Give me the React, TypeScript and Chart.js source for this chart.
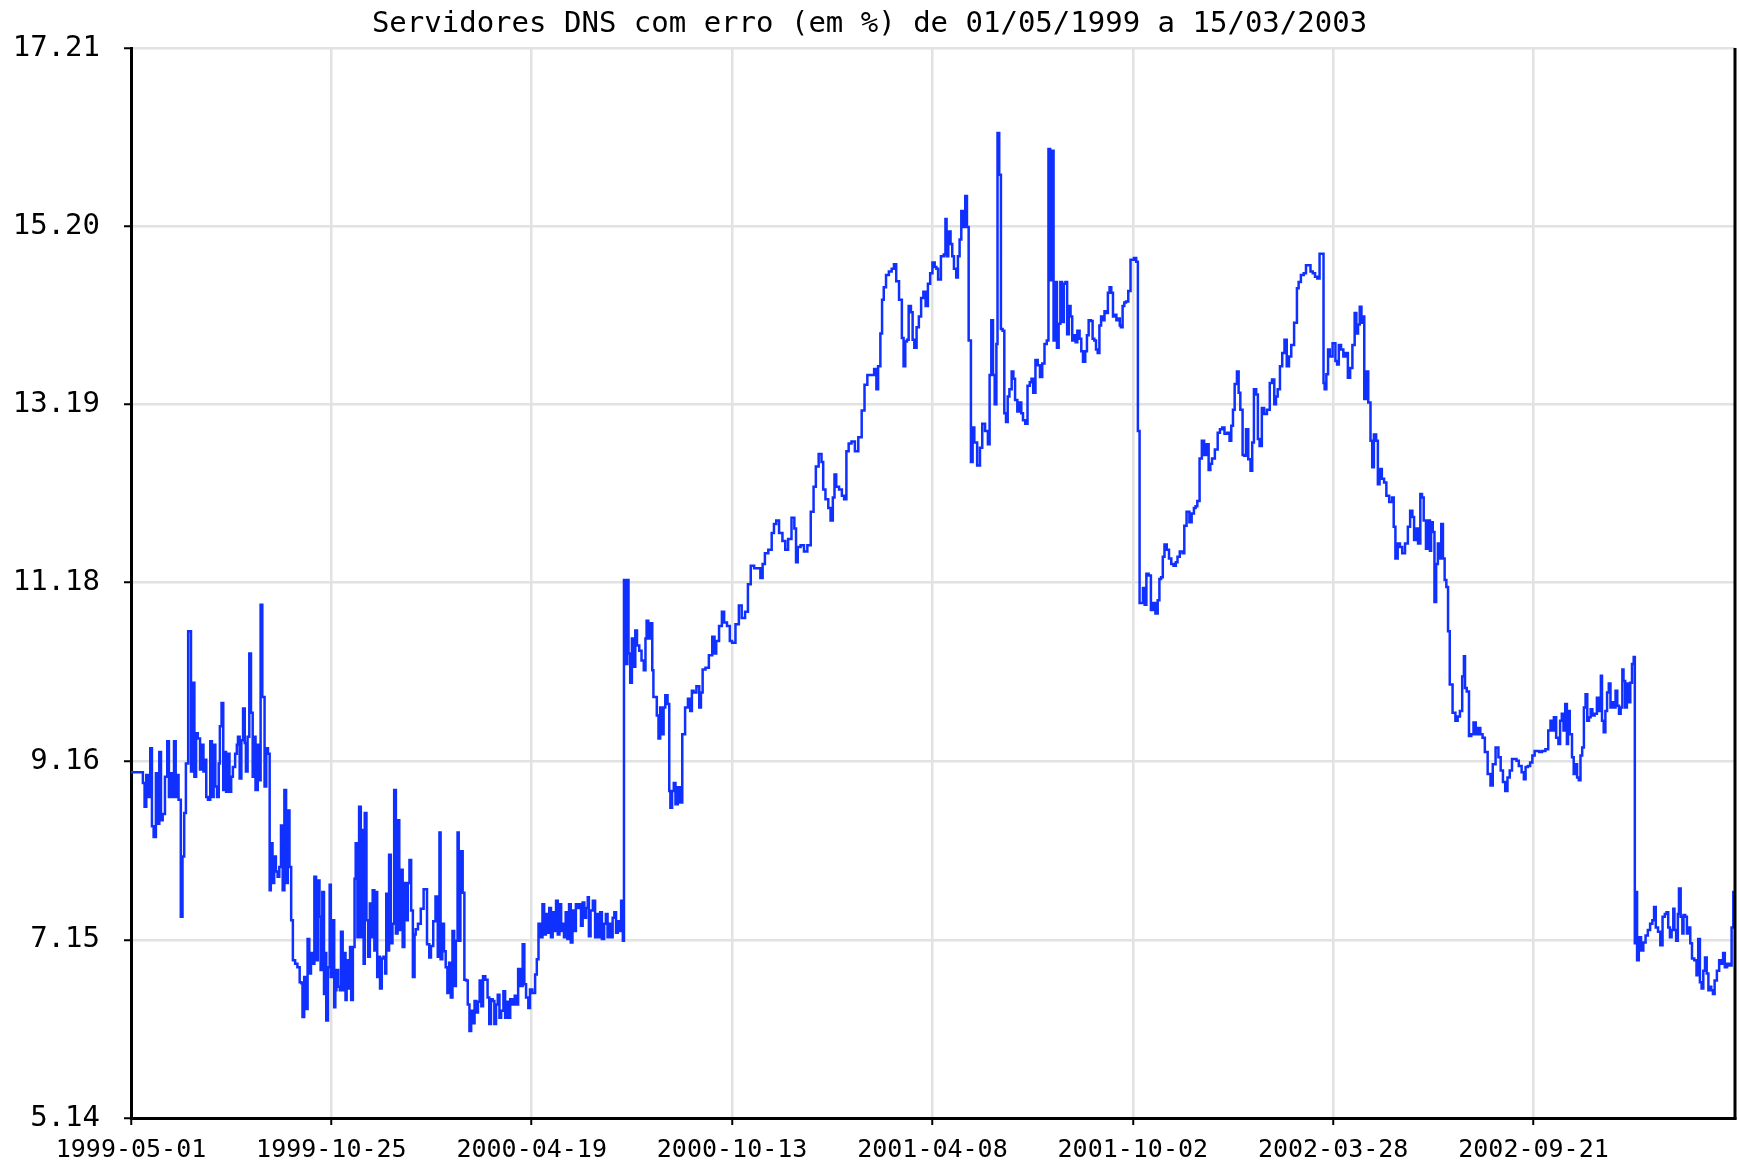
import { useEffect, useRef } from 'react';
import { Chart, registerables } from 'chart.js';

Chart.register(...registerables);

const titleText = 'Servidores DNS com erro (em %) de 01/05/1999 a 15/03/2003';

// x axis: days since 1999-05-01
const xMaxDay = 1417;
const xTickDays = [0, 177, 354, 531, 708, 885, 1062, 1239];
const xTickLabels = ['1999-05-01', '1999-10-25', '2000-04-19', '2000-10-13', '2001-04-08', '2001-10-02', '2002-03-28', '2002-09-21'];

const yTickValues = [5.14, 7.15, 9.16, 11.18, 13.19, 15.2, 17.21];
const yTickLabels = ['5.14', '7.15', '9.16', '11.18', '13.19', '15.20', '17.21'];

// [day, % of DNS servers with errors]
const may1999toJan2000: [number, number][] = [
  [0, 9.04], [10, 9.04], [11, 8.92], [13, 8.65], [14, 9.01], [16, 8.76], [18, 9.31], [19, 8.43], [21, 8.31], [23, 9.03],
  [24, 8.46], [26, 9.27], [27, 8.5], [29, 8.57], [31, 8.99], [33, 9.39], [34, 8.76], [36, 9.03], [37, 8.76], [39, 9.39],
  [40, 8.76], [41, 9.01], [43, 8.73], [45, 7.41], [46, 8.09], [48, 8.58], [49, 9.14], [52, 10.63], [54, 9.05], [55, 10.05],
  [57, 8.99], [58, 9.48], [60, 9.42], [62, 9.07], [63, 9.35], [65, 9.05], [66, 9.18], [67, 8.76], [69, 8.73], [71, 9.39],
  [72, 8.76], [74, 9.35], [75, 8.88], [77, 8.76], [78, 9.14], [79, 9.56], [81, 9.82], [82, 8.84], [83, 9.27], [85, 8.82],
  [86, 9.25], [88, 8.82], [89, 8.99], [91, 9.1], [93, 9.25], [94, 9.35], [95, 9.44], [97, 8.97], [98, 9.4], [100, 9.76],
  [101, 9.37], [102, 9.05], [104, 9.44], [105, 10.38], [107, 9.71], [108, 8.99], [109, 9.44], [111, 8.84], [113, 9.35], [114, 8.95],
  [115, 10.93], [117, 9.89], [119, 8.88], [120, 9.31], [122, 9.25], [123, 7.71], [124, 8.24], [126, 7.79], [127, 8.09], [129, 7.92],
  [130, 7.86], [132, 7.97], [133, 8.44], [135, 7.71], [136, 8.84], [138, 7.79], [139, 8.61], [141, 7.97], [142, 7.37], [144, 6.92],
  [146, 6.88], [148, 6.84], [150, 6.67], [151, 6.66], [152, 6.28], [154, 6.73], [155, 6.37], [157, 7.16], [158, 6.77], [160, 7.0],
  [161, 6.88], [163, 7.86], [164, 6.92], [166, 7.82], [167, 7.41], [168, 6.81], [170, 7.69], [171, 6.54], [172, 7.0], [173, 6.24],
  [175, 6.84], [176, 7.77], [177, 6.73], [179, 7.37], [180, 6.39], [181, 6.58], [182, 6.81], [184, 6.62], [185, 6.58], [186, 7.24],
  [188, 6.58], [189, 7.0], [190, 6.47], [191, 6.92], [193, 6.6], [194, 7.07], [195, 6.47], [197, 7.07], [198, 7.84], [199, 8.24],
  [201, 7.18], [202, 8.65], [204, 7.18], [205, 8.39], [206, 6.88], [207, 8.58], [209, 7.37], [210, 6.96], [212, 7.56], [213, 7.18],
  [214, 7.71], [216, 7.03], [217, 7.69], [218, 6.73], [219, 6.96], [221, 6.6], [222, 6.94], [224, 6.96], [225, 6.77], [226, 7.67],
  [227, 7.03], [229, 8.11], [230, 7.11], [232, 7.33], [233, 8.84], [235, 7.22], [236, 8.5], [238, 7.26], [239, 7.94], [241, 7.07],
  [242, 7.79], [244, 7.37], [245, 7.79], [247, 8.05], [248, 7.48], [250, 6.73],
];

const jan2000toAug2000: [number, number][] = [
  [251, 7.21], [252, 7.27], [255, 7.33], [257, 7.5], [260, 7.72], [263, 7.1], [264, 6.95], [266, 7.08], [268, 7.36], [270, 7.64],
  [272, 6.96], [273, 8.36], [274, 6.93], [276, 7.33], [277, 7.02], [279, 6.84], [280, 6.55], [282, 6.89], [283, 6.5], [285, 7.25],
  [286, 6.63], [288, 7.14], [289, 8.36], [290, 7.14], [292, 8.15], [294, 7.68], [295, 6.7], [297, 6.69], [298, 6.42], [300, 6.12],
  [301, 6.35], [303, 6.21], [304, 6.46], [306, 6.33], [307, 6.45], [309, 6.69], [310, 6.4], [312, 6.74], [314, 6.7], [316, 6.5],
  [317, 6.2], [319, 6.48], [320, 6.46], [322, 6.2], [323, 6.42], [325, 6.53], [326, 6.27], [328, 6.35], [330, 6.57], [331, 6.27],
  [333, 6.45], [334, 6.27], [336, 6.48], [338, 6.42], [340, 6.52], [341, 6.42], [343, 6.82], [345, 6.63], [347, 7.1], [348, 6.65],
  [350, 6.5], [352, 6.38], [353, 6.59], [356, 6.55], [358, 6.76], [359, 6.93], [361, 7.33], [363, 7.18], [364, 7.55], [366, 7.21],
  [367, 7.44], [369, 7.23], [370, 7.51], [372, 7.18], [373, 7.46], [375, 7.25], [376, 7.59], [378, 7.21], [379, 7.55], [381, 7.25],
  [382, 7.33], [383, 7.18], [385, 7.46], [386, 7.16], [388, 7.55], [389, 7.12], [391, 7.48], [392, 7.25], [394, 7.55], [395, 7.51],
  [397, 7.55], [398, 7.31], [400, 7.57], [401, 7.4], [403, 7.51], [404, 7.63], [405, 7.19], [407, 7.48], [409, 7.59], [411, 7.18],
  [412, 7.44], [414, 7.18], [415, 7.46], [417, 7.16], [419, 7.33], [420, 7.44], [422, 7.18], [423, 7.33], [425, 7.18], [426, 7.4],
  [428, 7.46], [429, 7.23], [431, 7.36], [432, 7.25], [434, 7.59], [435, 7.14], [436, 11.21], [438, 10.26], [439, 11.21], [440, 10.38],
  [442, 10.05], [443, 10.55], [445, 10.23], [446, 10.64], [448, 10.47], [450, 10.41], [452, 10.3], [454, 10.19], [455, 10.55], [456, 10.75],
  [458, 10.55], [460, 10.72], [461, 10.19], [462, 9.89], [464, 9.89], [465, 9.68], [467, 9.42], [468, 9.77], [470, 9.47], [471, 9.77],
  [473, 9.91], [475, 9.81], [476, 8.83], [477, 8.64], [479, 8.83], [480, 8.92], [482, 8.68], [484, 8.87],
];

const sep2000toMay2001: [number, number][] = [
  [486, 8.7], [488, 9.47], [491, 9.77], [493, 9.87], [495, 9.73], [496, 9.96], [498, 9.94], [501, 10.01], [503, 9.77], [504, 9.94],
  [506, 10.2], [509, 10.22], [512, 10.36], [515, 10.57], [516, 10.38], [518, 10.52], [521, 10.69], [523, 10.85], [525, 10.73], [528, 10.69],
  [530, 10.52], [532, 10.5], [536, 10.71], [538, 10.92], [541, 10.78], [544, 10.85], [546, 11.16], [549, 11.37], [552, 11.34], [555, 11.34],
  [557, 11.23], [559, 11.39], [561, 11.51], [565, 11.55], [567, 11.74], [569, 11.84], [571, 11.88], [574, 11.74], [577, 11.65], [579, 11.55],
  [582, 11.67], [585, 11.91], [587, 11.79], [588, 11.41], [590, 11.58], [593, 11.6], [596, 11.53], [599, 11.6], [602, 11.98], [604, 12.26],
  [606, 12.49], [609, 12.63], [611, 12.54], [612, 12.23], [615, 12.12], [617, 12.02], [619, 11.88], [621, 12.14], [622, 12.4], [624, 12.26],
  [627, 12.23], [629, 12.16], [631, 12.12], [633, 12.66], [635, 12.75], [638, 12.77], [641, 12.66], [644, 12.82], [647, 13.12], [649, 13.41],
  [652, 13.52], [655, 13.52], [658, 13.59], [659, 13.36], [661, 13.62], [663, 13.99], [664, 14.37], [666, 14.51], [668, 14.65], [671, 14.69],
  [673, 14.72], [675, 14.77], [677, 14.58], [680, 14.37], [682, 13.94], [683, 13.62], [685, 13.9], [686, 13.92], [688, 14.3], [690, 14.23],
  [691, 13.92], [693, 13.83], [695, 14.06], [697, 14.18], [699, 14.39], [701, 14.46], [703, 14.3], [705, 14.55], [707, 14.67], [709, 14.79],
  [711, 14.74], [712, 14.72], [714, 14.6], [717, 14.86], [719, 14.88], [720, 15.28], [721, 14.86], [723, 15.14], [725, 15.0], [726, 14.86],
  [728, 14.72], [730, 14.62], [731, 14.86], [733, 15.05], [734, 15.37], [736, 15.19], [738, 15.54], [739, 15.19],
];

const may2001toDec2001: [number, number][] = [
  [741, 13.91], [743, 12.54], [744, 12.93], [746, 12.76], [749, 12.5], [751, 12.7], [753, 12.97], [756, 12.89], [758, 12.74], [759, 13.52],
  [761, 14.14], [762, 13.52], [764, 13.19], [765, 13.87], [766, 16.25], [768, 15.78], [769, 14.04], [771, 14.02], [772, 13.09], [774, 12.99],
  [775, 13.28], [777, 13.36], [779, 13.56], [780, 13.48], [782, 13.24], [784, 13.11], [786, 13.21], [787, 13.09], [789, 13.01], [791, 12.97],
  [793, 13.4], [795, 13.44], [796, 13.48], [798, 13.32], [800, 13.69], [802, 13.63], [804, 13.5], [806, 13.65], [808, 13.87], [810, 13.91],
  [811, 16.07], [813, 14.59], [814, 16.05], [816, 13.91], [817, 14.57], [819, 13.83], [820, 14.1], [822, 14.57], [823, 14.12], [825, 14.55],
  [826, 14.57], [828, 13.98], [829, 14.3], [831, 14.18], [832, 13.91], [834, 13.97], [835, 13.89], [837, 14.02], [839, 13.93], [840, 13.79],
  [842, 13.67], [844, 13.79], [845, 13.97], [847, 14.14], [849, 14.13], [850, 13.93], [852, 13.91], [853, 13.81], [855, 13.77], [856, 14.08],
  [858, 14.18], [859, 14.14], [861, 14.24], [862, 14.22], [864, 14.45], [865, 14.51], [867, 14.45], [868, 14.18], [870, 14.2], [871, 14.14],
  [873, 14.16], [874, 14.08], [875, 14.06], [877, 14.3], [878, 14.34], [880, 14.35], [882, 14.47], [884, 14.82], [885, 14.82], [887, 14.84],
  [889, 14.8], [890, 12.89], [892, 10.95], [893, 10.95], [895, 11.12], [896, 10.93], [898, 11.28], [900, 11.26], [902, 10.87], [904, 10.95],
  [906, 10.83], [908, 10.98], [909, 11.22], [911, 11.24], [912, 11.47], [914, 11.61], [916, 11.55], [918, 11.45], [920, 11.39], [922, 11.37],
  [924, 11.41], [925, 11.47], [928, 11.53], [930, 11.51], [931, 11.82], [934, 11.98], [936, 11.86], [938, 11.96], [940, 12.02], [941, 12.04],
  [943, 12.1], [945, 12.58], [947, 12.78], [949, 12.62], [951, 12.74], [953, 12.45], [954, 12.52], [956, 12.58], [959, 12.68], [961, 12.87],
  [963, 12.91], [965, 12.93], [967, 12.86], [970, 12.87], [971, 12.78], [973, 12.95], [974, 13.13], [976, 13.42], [978, 13.56], [979, 13.32],
  [981, 13.13], [983, 12.62],
];

const jan2002toAug2002: [number, number][] = [
  [984, 12.61], [986, 12.91], [988, 12.57], [990, 12.44], [991, 12.76], [993, 13.36], [995, 13.3], [996, 12.8], [998, 12.72], [1000, 13.15],
  [1002, 13.08], [1005, 13.13], [1007, 13.43], [1009, 13.47], [1011, 13.19], [1012, 13.28], [1014, 13.36], [1016, 13.62], [1018, 13.77], [1020, 13.92],
  [1022, 13.62], [1024, 13.73], [1026, 13.86], [1029, 14.11], [1031, 14.5], [1032, 14.57], [1035, 14.65], [1037, 14.67], [1039, 14.76], [1041, 14.76],
  [1043, 14.69], [1045, 14.67], [1047, 14.63], [1049, 14.61], [1051, 14.89], [1053, 14.89], [1054, 13.43], [1055, 13.36], [1057, 13.53], [1058, 13.81],
  [1060, 13.73], [1063, 13.88], [1065, 13.68], [1066, 13.64], [1068, 13.86], [1070, 13.81], [1072, 13.73], [1074, 13.77], [1076, 13.49], [1078, 13.6],
  [1080, 13.86], [1082, 14.22], [1083, 13.99], [1085, 14.09], [1086, 14.29], [1088, 14.11], [1089, 14.18], [1090, 13.25], [1092, 13.56], [1094, 13.21],
  [1096, 12.78], [1097, 12.48], [1099, 12.85], [1101, 12.78], [1102, 12.29], [1104, 12.46], [1106, 12.35], [1108, 12.31], [1110, 12.16], [1113, 12.09],
  [1115, 12.14], [1116, 11.81], [1118, 11.45], [1120, 11.62], [1122, 11.58], [1124, 11.51], [1127, 11.62], [1129, 11.81], [1131, 11.99], [1133, 11.92],
  [1134, 11.66], [1136, 11.79], [1138, 11.62], [1140, 12.18], [1141, 12.14], [1143, 11.88], [1145, 11.56], [1147, 11.88], [1148, 11.54], [1149, 11.86],
  [1151, 11.75], [1152, 10.96], [1154, 11.39], [1155, 11.62], [1157, 11.45], [1158, 11.84], [1160, 11.45], [1161, 11.21], [1163, 11.13], [1164, 10.63],
  [1166, 10.03], [1169, 9.71], [1171, 9.62], [1173, 9.67], [1175, 9.73], [1177, 10.12], [1178, 10.35], [1179, 9.99], [1181, 9.95], [1183, 9.45],
  [1185, 9.47], [1187, 9.6], [1189, 9.47], [1191, 9.54],
];

const aug2002toMar2003: [number, number][] = [
  [1193, 9.47], [1195, 9.43], [1197, 9.27], [1200, 9.02], [1202, 8.89], [1204, 9.13], [1207, 9.32], [1209, 9.21], [1211, 9.06], [1213, 8.93],
  [1215, 8.83], [1217, 8.98], [1219, 9.06], [1221, 9.19], [1223, 9.19], [1225, 9.17], [1227, 9.11], [1230, 9.04], [1231, 8.96], [1233, 9.1],
  [1235, 9.11], [1237, 9.15], [1239, 9.23], [1241, 9.28], [1243, 9.28], [1245, 9.27], [1248, 9.28], [1251, 9.3], [1253, 9.51], [1255, 9.62],
  [1256, 9.51], [1258, 9.66], [1260, 9.43], [1262, 9.36], [1263, 9.62], [1265, 9.7], [1266, 9.51], [1268, 9.81], [1269, 9.36], [1270, 9.73],
  [1272, 9.47], [1274, 9.21], [1275, 9.02], [1277, 9.13], [1278, 8.98], [1280, 8.95], [1281, 9.23], [1283, 9.32], [1284, 9.77], [1286, 9.92],
  [1287, 9.62], [1289, 9.66], [1290, 9.75], [1292, 9.68], [1294, 9.7], [1296, 9.88], [1298, 9.73], [1299, 10.13], [1300, 9.62], [1302, 9.49],
  [1303, 9.73], [1305, 9.94], [1306, 10.04], [1308, 9.77], [1309, 9.83], [1311, 9.77], [1312, 9.96], [1314, 9.79], [1315, 9.7], [1317, 9.77],
  [1318, 10.2], [1319, 10.07], [1321, 9.77], [1322, 10.04], [1324, 9.83], [1325, 10.05], [1327, 10.26], [1328, 10.34], [1329, 7.11], [1330, 7.69],
  [1331, 6.92], [1333, 7.18], [1335, 7.03], [1337, 7.12], [1339, 7.2], [1341, 7.26], [1343, 7.33], [1345, 7.37], [1346, 7.52], [1348, 7.29],
  [1350, 7.24], [1352, 7.09], [1354, 7.41], [1356, 7.44], [1357, 7.46], [1359, 7.29], [1360, 7.18], [1362, 7.26], [1363, 7.5], [1364, 7.26],
  [1366, 7.14], [1367, 7.44], [1368, 7.73], [1370, 7.41], [1371, 7.22], [1372, 7.43], [1374, 7.41], [1375, 7.22], [1377, 7.29], [1378, 7.11],
  [1380, 6.94], [1382, 6.92], [1384, 6.75], [1385, 7.16], [1387, 6.67], [1388, 6.6], [1390, 6.8], [1391, 6.95], [1393, 6.77], [1394, 6.58],
  [1395, 6.62], [1397, 6.58], [1398, 6.54], [1400, 6.69], [1402, 6.8], [1404, 6.92], [1406, 6.88], [1407, 7.0], [1409, 6.84], [1411, 6.88],
  [1413, 6.86], [1415, 7.29], [1416, 7.69],
];

const FONT = '"DejaVu Sans Mono", "Liberation Mono", monospace';

export default function App() {
  const ref = useRef<HTMLCanvasElement>(null);

  useEffect(() => {
    document.body.style.margin = '0';
    const canvas = ref.current;
    if (!canvas) return;
    const series = [
      ...may1999toJan2000,
      ...jan2000toAug2000,
      ...sep2000toMay2001,
      ...may2001toDec2001,
      ...jan2002toAug2002,
      ...aug2002toMar2003,
    ].map(([d, v]) => ({ x: d, y: v }));

    const framePlugin = {
      id: 'frameAndTitle',
      afterDraw(chart: any) {
        const { ctx, chartArea: a } = chart;
        ctx.save();
        ctx.strokeStyle = '#000';
        ctx.lineWidth = 3;
        ctx.beginPath();
        ctx.moveTo(a.right, a.top);
        ctx.lineTo(a.right, a.bottom + 1.5);
        ctx.stroke();
        ctx.fillStyle = '#000';
        ctx.font = `29px ${FONT}`;
        ctx.textAlign = 'center';
        ctx.textBaseline = 'middle';
        ctx.fillText(titleText, chart.width / 2, 24);
        ctx.restore();
      },
    };

    const chart = new Chart(canvas, {
      type: 'line',
      data: {
        datasets: [
          {
            data: series,
            borderColor: '#1030ff',
            borderWidth: 2.5,
            pointRadius: 0,
            tension: 0,
            stepped: 'middle',
            fill: false,
          },
        ],
      },
      options: {
        animation: false,
        responsive: false,
        layout: { padding: { top: 48, right: 4, left: 0, bottom: 0 } },
        plugins: {
          legend: { display: false },
          tooltip: { enabled: false },
          title: { display: false },
        },
        scales: {
          x: {
            type: 'linear',
            min: 0,
            max: xMaxDay,
            afterBuildTicks: (s: any) => {
              s.ticks = xTickDays.map((v) => ({ value: v }));
            },
            afterFit: (s: any) => {
              s.height = 45;
            },
            ticks: {
              autoSkip: false,
              maxRotation: 0,
              padding: 10,
              color: '#000',
              font: { family: FONT, size: 25 },
              callback: (_v: any, i: number) => xTickLabels[i],
            },
            grid: { color: '#e2e2e2', lineWidth: 2.5, tickColor: '#000', tickLength: 7, tickWidth: 2 },
            border: { color: '#000', width: 3 },
          },
          y: {
            min: 5.14,
            max: 17.21,
            afterBuildTicks: (s: any) => {
              s.ticks = yTickValues.map((v) => ({ value: v }));
            },
            afterFit: (s: any) => {
              s.width = 131;
            },
            ticks: {
              padding: 24,
              color: '#000',
              font: { family: FONT, size: 29 },
              callback: (_v: any, i: number) => yTickLabels[i],
            },
            grid: { color: '#e2e2e2', lineWidth: 2.5, tickColor: '#000', tickLength: 7, tickWidth: 2 },
            border: { color: '#000', width: 3 },
          },
        },
      },
      plugins: [framePlugin],
    });
    return () => chart.destroy();
  }, []);

  return <canvas ref={ref} width={1739} height={1163} style={{ display: 'block' }} />;
}
